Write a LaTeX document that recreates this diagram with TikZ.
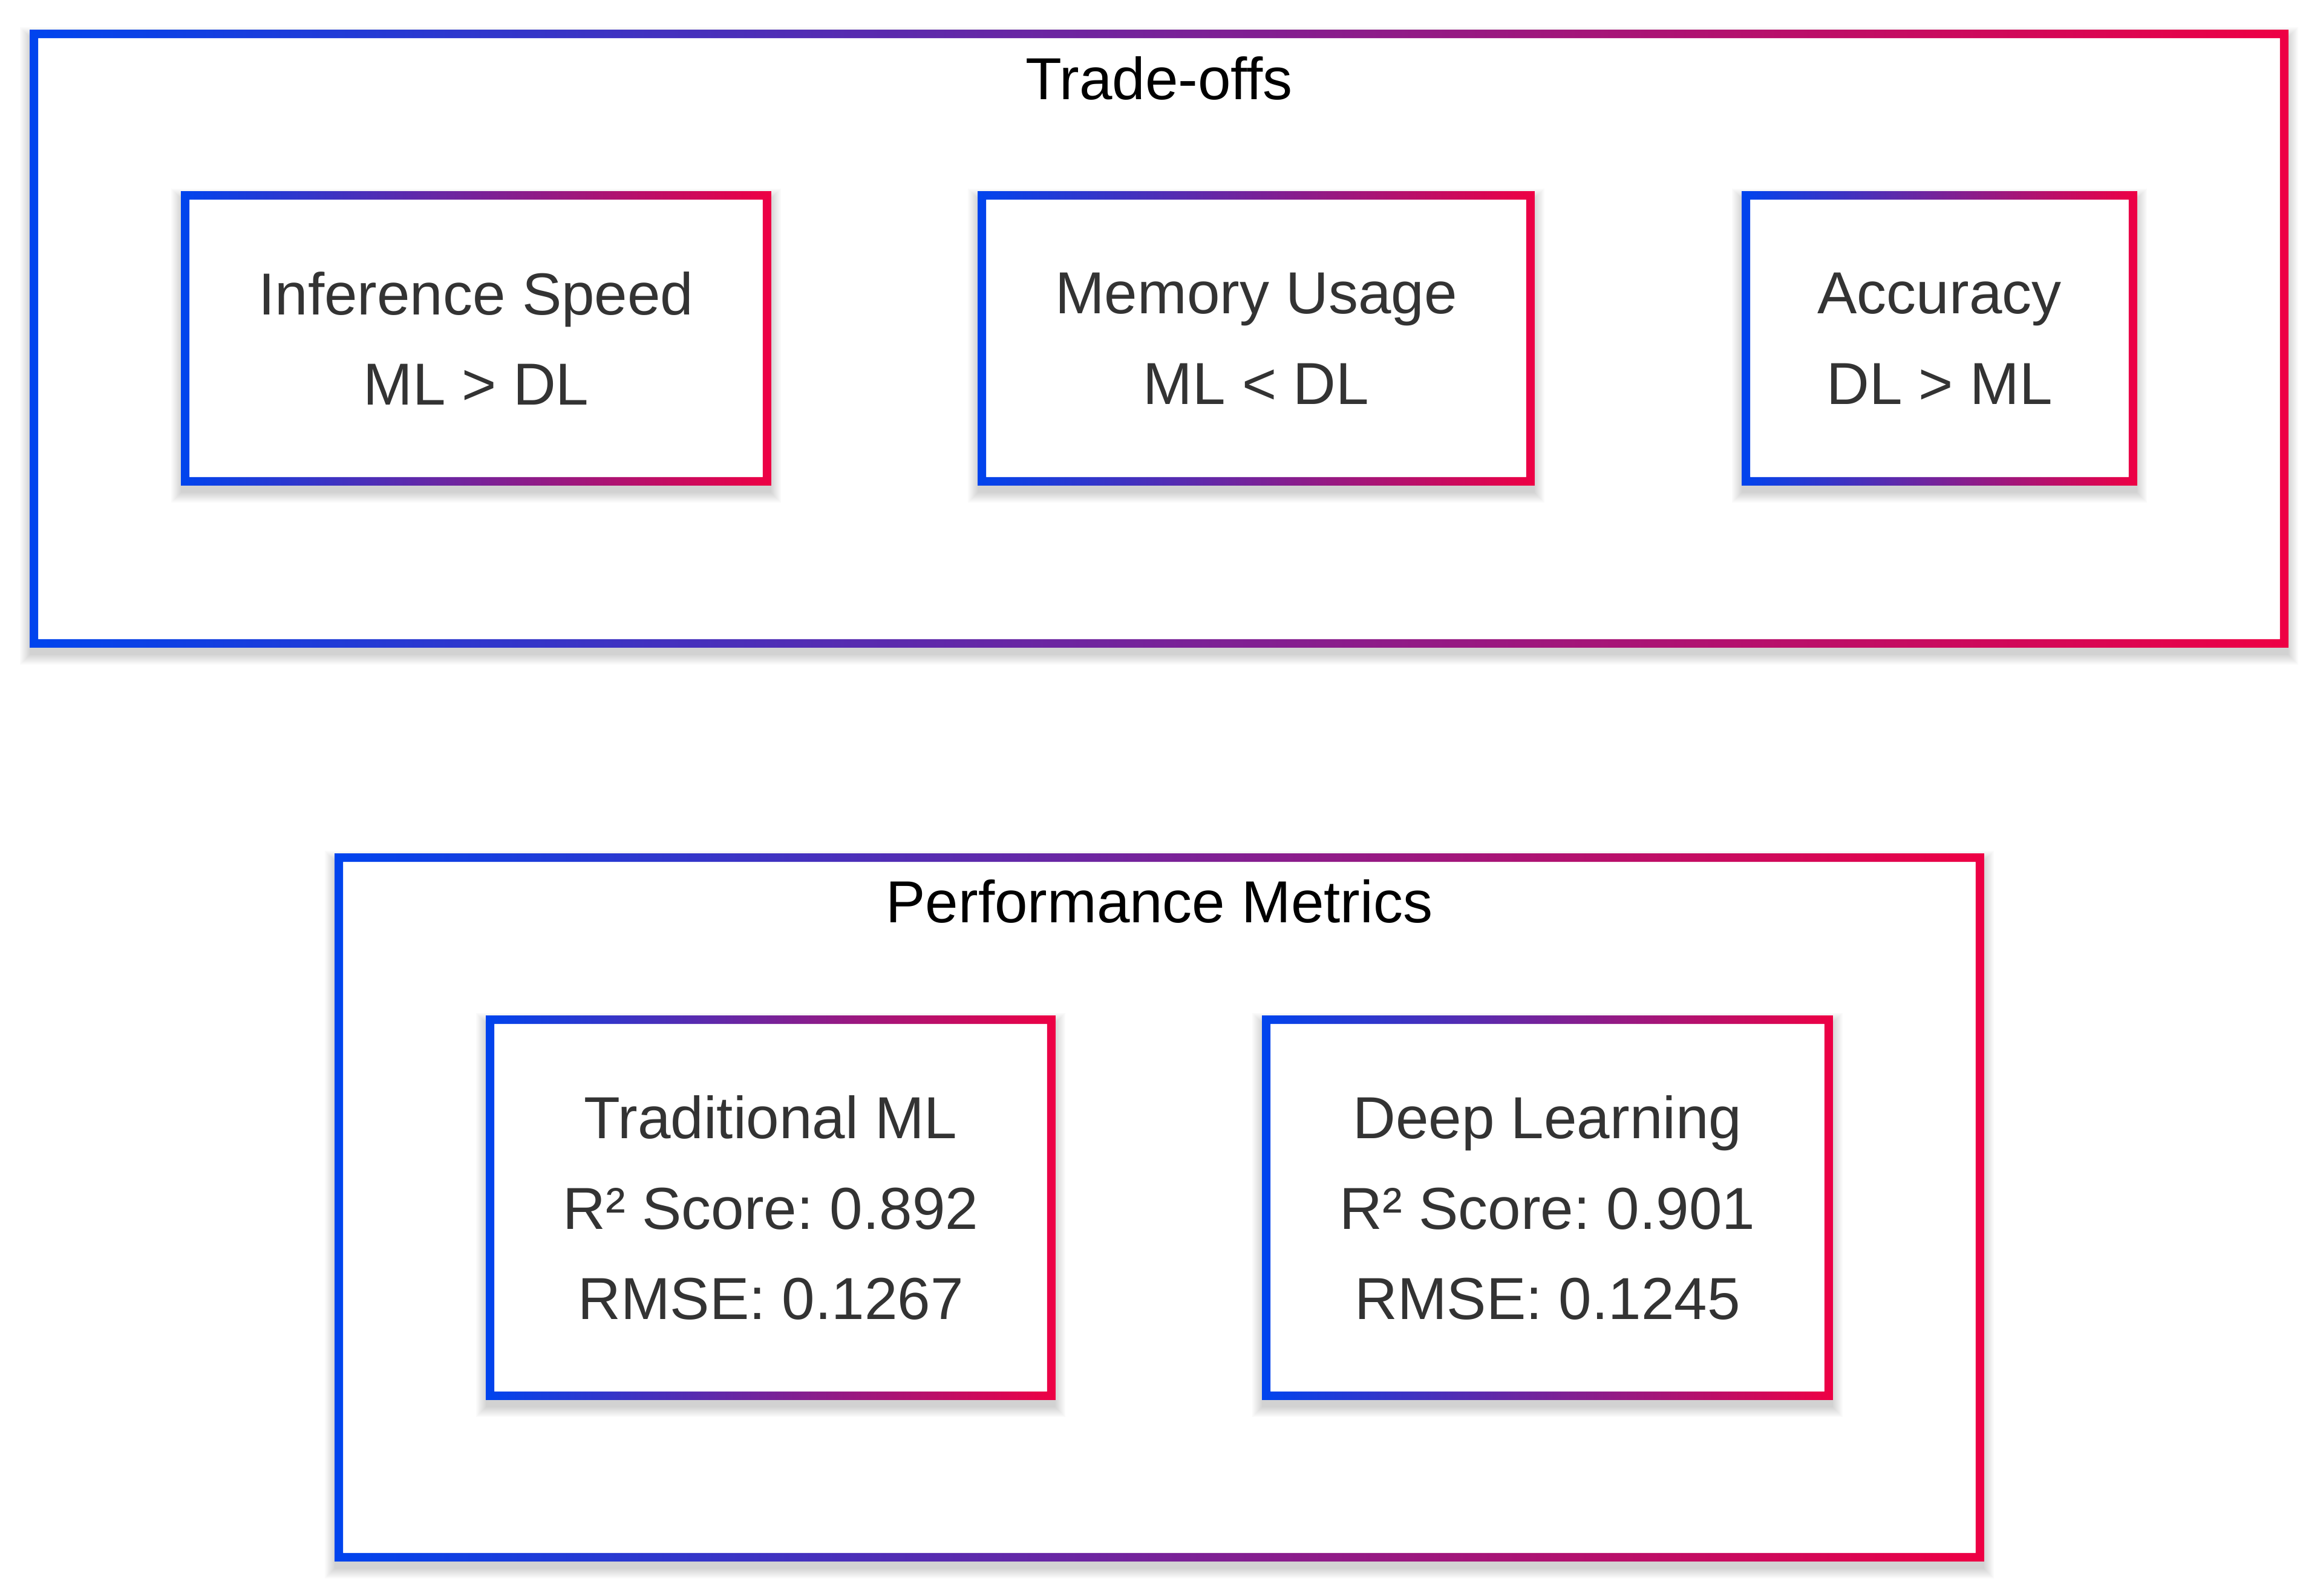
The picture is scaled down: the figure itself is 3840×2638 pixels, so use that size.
\documentclass[tikz,border=0pt]{standalone}
\usepackage{fontspec}
\setmainfont{Liberation Sans}
\definecolor{gblue}{HTML}{0044EE}
\definecolor{gred}{HTML}{EE0044}
\definecolor{ink}{HTML}{333333}
\newcommand{\px}{0.25pt}
\pgfdeclarelayer{back}
\pgfsetlayers{back,main}
\tikzset{
  panel/.style 2 args={minimum width=#1*\px, minimum height=#2*\px, inner sep=0pt},
  card/.style 2 args={panel={#1}{#2}, text=ink, align=center, font=\fontsize{24.5}{37.4}\selectfont},
  heading/.style={anchor=base, font=\fontsize{24.5}{30}\selectfont},
}
% soft shadow, white fill and gradient border round a node
\newcommand{\framed}[1]{%
  \foreach \s in {0,2,...,16}
    \fill[black, opacity=0.018] ([xshift=-\s*\px, yshift=-\s*\px-12*\px]#1.south west) rectangle ([xshift=\s*\px, yshift=\s*\px-12*\px]#1.north east);
  \fill[white] (#1.south west) rectangle (#1.north east);
  \shade[left color=gblue, right color=gred, even odd rule] (#1.south west) rectangle (#1.north east)
    ([shift={(14*\px,14*\px)}]#1.south west) rectangle ([shift={(-14*\px,-14*\px)}]#1.north east);
}

\begin{document}
\frenchspacing
\begin{tikzpicture}[x=\px, y=-\px]
\useasboundingbox (0,0) rectangle (3840,2638);
% trade-offs
\node[panel={3732}{1020}] (tradeoffs) at (1916,560) {};
\node[heading] (tradeoffs-title) at (1916,164) {Trade-offs};
\node[card={974}{485}] (speed) at (787,559.5) {Inference Speed\\ML > DL};
\node[card={919}{485}] (memory) at (2076.5,559.5) {Memory Usage\\ML < DL};
\node[card={652}{485}] (accuracy) at (3206,559.5) {Accuracy\\DL > ML};
% metrics
\node[panel={2725}{1169}] (metrics) at (1916.5,1996.5) {};
\node[heading] (metrics-title) at (1916.5,1525) {Performance Metrics};
\node[card={940}{634}] (tradml) at (1274,1997) {Traditional ML\\R² Score: 0.892\\RMSE: 0.1267};
\node[card={942}{634}] (deepl) at (2558,1997) {Deep Learning\\R² Score: 0.901\\RMSE: 0.1245};
\begin{pgfonlayer}{back}
\fill[white] (0,0) rectangle (3840,2638);
\framed{tradeoffs}
\foreach \n in {speed,memory,accuracy} {\framed{\n}}
\framed{metrics}
\foreach \n in {tradml,deepl} {\framed{\n}}
\end{pgfonlayer}
\end{tikzpicture}
\end{document}
